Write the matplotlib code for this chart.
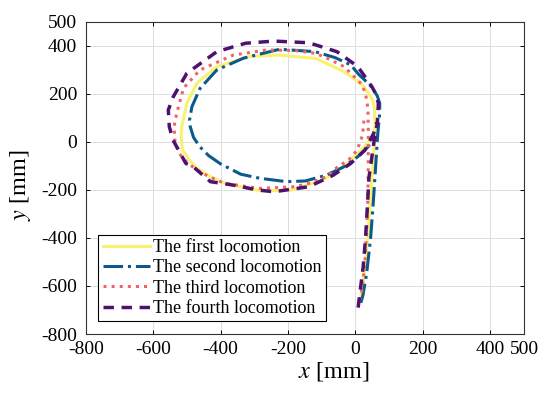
import matplotlib.pyplot as plt

plt.rcParams['font.family'] = ['Liberation Serif', 'DejaVu Serif']
plt.rcParams['mathtext.fontset'] = 'stix'
plt.rcParams['axes.unicode_minus'] = False

# trajectories [mm], from tail bottom to loop end
x1 = [14, 22, 30, 38, 45, 52, 56, 58, 56, 52, 40, 18, -34, -118, -232, -313, -411,
      -470, -500, -515, -517, -513, -490, -471, -430, -388, -284, -190, -97, -34, 18, 44]
y1 = [-660, -600, -500, -370, -230, -100, 0, 80, 140, 170, 200, 240, 292, 347, 361, 355, 313,
      244, 161, 63, 20, -34, -80, -110, -145, -173, -204, -201, -159, -104, -34, 7]

x2 = [16, 22, 33, 45, 53, 60, 66, 72, 72, 65, 50, 38, 10, -14, -60, -120, -225, -332, -411,
      -461, -485, -492, -490, -480, -462, -435, -400, -340, -283, -204, -149, -86, -34, 7, 38, 59]
y2 = [-670, -640, -550, -400, -250, -100, 30, 120, 160, 190, 225, 243, 280, 320, 350, 375, 385, 348, 299,
      222, 146, 91, 63, 18, -20, -58, -92, -135, -152, -166, -163, -139, -104, -62, -20, 21]

x3 = [12, 19, 28, 33, 37, 38, 38, 37, 30, 18, -10, -34, -80, -118, -180, -263, -362, -461,
      -510, -530, -538, -535, -523, -500, -471, -430, -388, -284, -180, -130, -86, -55, -20,
      5, 18, 24, 25]
y3 = [-660, -617, -506, -370, -230, -90, 50, 140, 200, 240, 280, 313, 345, 368, 380, 382, 361, 299,
      223, 119, 63, 0, -48, -85, -117, -148, -173, -194, -187, -170, -145, -107, -75,
      -35, 15, 60, 88]

x4 = [8, 14, 23, 30, 35, 40, 55, 65, 68, 60, 49, 7, -55, -138, -242, -326, -411, -500, -540,
      -555, -552, -541, -503, -481, -430, -363, -293, -242, -138, -66, -14, 28, 54, 63]
y4 = [-690, -620, -520, -400, -280, -150, 0, 80, 160, 200, 229, 313, 375, 412, 419, 410, 375, 285, 188,
      132, 63, 7, -90, -104, -166, -180, -200, -208, -187, -139, -90, -35, 35, 80]

labels = ['The first locomotion', 'The second locomotion',
          'The third locomotion', 'The fourth locomotion']

fig = plt.figure(figsize=(5.5, 3.93), dpi=100)
ax = fig.add_axes([0.1558, 0.150, 0.797, 0.795])

ax.plot(x1, y1, color='#F9F170', lw=2.2, ls='-', label=labels[0])
ax.plot(x2, y2, color='#0B5A8C', lw=2.2, ls='-.', label=labels[1])
ax.plot(x3, y3, color='#F06464', lw=2.2, ls=':', label=labels[2])
ax.plot(x4, y4, color='#4D1170', lw=2.5, ls=(0, (3, 2.2)), label=labels[3])

ax.set_xlim(-800, 500)
ax.set_ylim(-800, 500)
ax.set_xticks([-800, -600, -400, -200, 0, 200, 400, 500])
ax.set_yticks([-800, -600, -400, -200, 0, 200, 400, 500])
ax.grid(True, color='#DDDDDD', lw=0.7)
ax.set_axisbelow(True)
ax.tick_params(direction='in', top=True, right=True, labelsize=14, length=3, width=0.7)
ax.tick_params(axis='x', pad=5)
ax.tick_params(axis='y', pad=6)
for s in ax.spines.values():
    s.set_linewidth(0.8)
    s.set_color('#333333')

ax.set_xlabel(r'$x$ [mm]', fontsize=17.5)
ax.set_ylabel(r'$y$ [mm]', fontsize=17.5)
ax.xaxis.set_label_coords(0.566, -0.083)
ax.yaxis.set_label_coords(-0.12, 0.477)

leg = ax.legend(loc='lower left', fontsize=13, handlelength=2.6, handletextpad=0.2,
                labelspacing=0.18, borderpad=0.25, borderaxespad=0.7, fancybox=False,
                framealpha=1, edgecolor='black')
leg.get_frame().set_linewidth(0.8)

fig.savefig('out.png', dpi=100)
